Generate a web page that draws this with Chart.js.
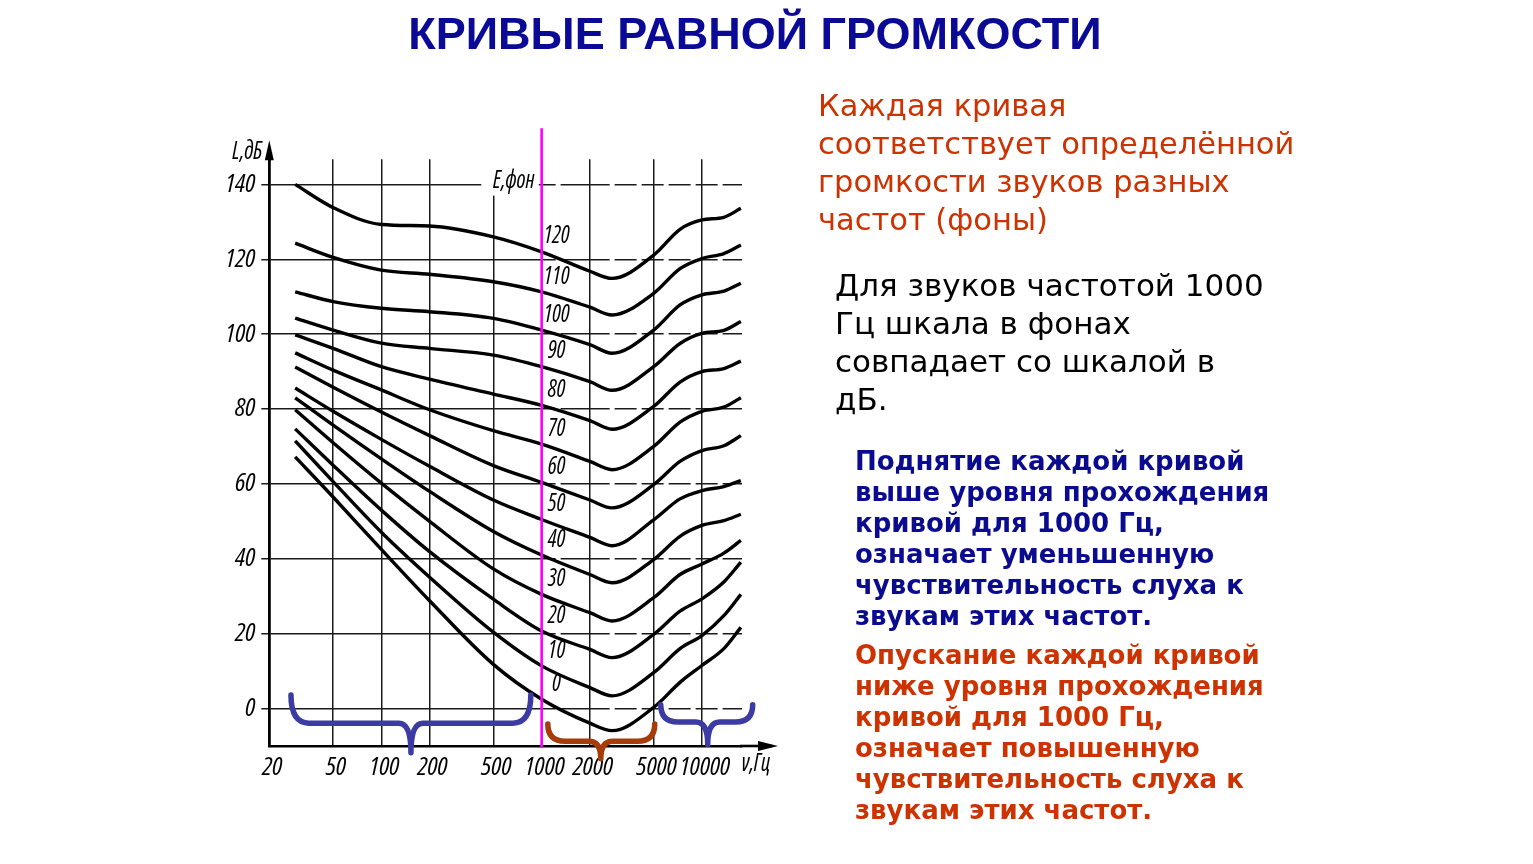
<!DOCTYPE html>
<html><head><meta charset="utf-8">
<script src="https://cdn.jsdelivr.net/npm/chart.js@4.4.1/dist/chart.umd.min.js"></script>
<style>
html,body{margin:0;padding:0;background:#fff;width:1533px;height:864px;overflow:hidden;}
#wrap{position:absolute;left:0;top:0;width:1533px;height:864px;}
.t{position:absolute;white-space:pre;margin:0;}
#title{left:0;width:1510px;text-align:center;top:9px;font:bold 45px "Liberation Sans",Arial,sans-serif;color:#0a0a96;line-height:50px;}
#t1{left:818px;top:87px;font:30.5px "DejaVu Sans",Verdana,sans-serif;line-height:38px;color:#cc3300;}
#t2{left:835px;top:266px;font:31px "DejaVu Sans",Verdana,sans-serif;line-height:38px;color:#000;}
#t3{left:855px;top:446px;font:bold 26px "DejaVu Sans",Tahoma,sans-serif;line-height:31px;color:#0b0b8f;}
#t4{left:855px;top:640px;font:bold 26px "DejaVu Sans",Tahoma,sans-serif;line-height:31px;color:#cc3300;}
</style></head>
<body>
<div id="wrap"><canvas id="c" width="1533" height="864"></canvas></div>
<div class="t" id="title">КРИВЫЕ РАВНОЙ ГРОМКОСТИ</div>
<div class="t" id="t1">Каждая кривая
соответствует определённой
громкости звуков разных
частот (фоны)</div>
<div class="t" id="t2">Для звуков частотой 1000
Гц шкала в фонах
совпадает со шкалой в
дБ.</div>
<div class="t" id="t3">Поднятие каждой кривой
выше уровня прохождения
кривой для 1000 Гц,
означает уменьшенную
чувствительность слуха к
звукам этих частот.</div>
<div class="t" id="t4">Опускание каждой кривой
ниже уровня прохождения
кривой для 1000 Гц,
означает повышенную
чувствительность слуха к
звукам этих частот.</div>
<script>
// ---- data ----
const freqHz = [29, 50, 100, 200, 500, 1000, 2000, 2750, 5000, 7300, 10000, 13700, 17500];
const phonLevels = [120, 110, 100, 90, 80, 70, 60, 50, 40, 30, 20, 10, 0];
const phon120 = [140, 133.8, 129.3, 128.9, 126, 122, 116.8, 114.9, 121.1, 128, 130.5, 131.2, 133.6];
const phon110 = [124.3, 120.5, 117.1, 116, 114, 111.3, 107.2, 105.1, 110.9, 117.5, 120.2, 121.5, 123.8];
const phon100 = [111.3, 108.7, 106.9, 106, 104.2, 101.1, 97.2, 94.9, 101.1, 107.8, 110.5, 111.5, 113.6];
const phon90  = [104.3, 101.1, 97.6, 96.2, 94.4, 91.3, 87.3, 85, 91.3, 97.5, 100.2, 101, 103.4];
const phon80  = [99.8, 96.2, 91.3, 88, 84, 81, 76.9, 74.6, 80.7, 87.2, 90, 90.8, 92.8];
const phon70  = [95, 90.4, 85.1, 79.8, 74.2, 70.6, 66, 63.8, 70, 76.5, 79.4, 80.5, 83];
const phon60  = [91.2, 85.8, 79.2, 72.9, 64.9, 60.4, 55.7, 53.6, 59.8, 66, 68.9, 70.2, 72.9];
const phon50  = [85.6, 79.4, 71.9, 64.7, 55.7, 50.5, 45.7, 43.5, 50.4, 56, 58.2, 59.3, 60.9];
const phon40  = [83, 75.7, 66.7, 58, 47.3, 41, 35.8, 33.6, 39.8, 46, 48.9, 50.2, 51.9];
const phon30  = [79.8, 71, 60.2, 50, 37.3, 30.5, 25.6, 23.4, 29.6, 35.8, 38.6, 41.5, 44.9];
const phon20  = [74.7, 65, 53, 41.9, 29.2, 20.7, 15.8, 13.6, 19.8, 26, 29.3, 33.8, 39.1];
const phon10  = [71.5, 60.6, 47.1, 35.1, 20.4, 11.4, 5.6, 3.4, 9.6, 16, 19.5, 24.8, 30.5];
const phon0   = [67.2, 56.5, 42.5, 28.8, 11.8, 2.5, -3.9, -5.9, 0.3, 7, 11.5, 16, 21.7];
const xTickValues = [20, 50, 100, 200, 500, 1000, 2000, 5000, 10000];
const xTickLabels = ['20', '50', '100', '200', '500', '1000', '2000', '5000', '10000'];
const yTickValues = [0, 20, 40, 60, 80, 100, 120, 140];
const yTickLabels = ['0', '20', '40', '60', '80', '100', '120', '140'];
const curveLabels = ['120', '110', '100', '90', '80', '70', '60', '50', '40', '30', '20', '10', '0'];

const series = [phon120, phon110, phon100, phon90, phon80, phon70, phon60, phon50, phon40, phon30, phon20, phon10, phon0];

// choose the narrowest installed sans face for the engineering-style italic labels
const narrow = (() => {
  const c = document.createElement('canvas').getContext('2d');
  const w = (f, s) => { c.font = f; return c.measureText(s || '0000').width; };
  const has = f => Math.abs(w('40px ' + f + ', monospace', 'abc 1000') - w('40px ' + f + ', serif', 'abc 1000')) < 0.01;
  let best = null;
  for (const f of ['"Noto Sans"', '"Open Sans"', 'Roboto', '"Liberation Sans"', 'Inter', 'Lato', '"DejaVu Sans"']) {
    if (!has(f)) continue;
    const base = w('italic 40px ' + f);
    for (const st of ['extra-condensed', 'condensed', 'semi-condensed']) {
      const ww = w('italic ' + st + ' 40px ' + f);
      if (ww < base * 0.95 && (!best || ww / 160 < best.em)) best = {family: f, stretch: st, em: ww / 160};
    }
  }
  for (const f of ['"Liberation Sans Narrow"', '"DejaVu Sans Condensed"']) {
    if (has(f)) { const ww = w('italic 40px ' + f); if (!best || ww / 160 < best.em) best = {family: f, stretch: '', em: ww / 160}; }
  }
  if (!best) best = {family: '"Liberation Sans"', stretch: '', em: w('italic 40px "Liberation Sans"') / 160};
  return best;
})();
const tickFontSize = Math.max(18.5, Math.min(26, 10.3 / narrow.em));
const tickFont = {family: narrow.family, size: tickFontSize, style: 'italic', weight: narrow.stretch || undefined};
const ownSize = 26;
const ownScale = Math.min(1, 8.6 / (narrow.em * ownSize));

function narrowText(ctx, txt, px, py, size) {
  ctx.save();
  ctx.font = 'italic ' + (narrow.stretch ? narrow.stretch + ' ' : '') + size + 'px ' + narrow.family;
  ctx.textAlign = 'center'; ctx.textBaseline = 'middle';
  ctx.translate(px, py); ctx.scale(ownScale, 1);
  ctx.fillText(txt, 0, 0);
  ctx.restore();
}

const datasets = series.map((vals, i) => ({
  label: phonLevels[i] + ' фон',
  data: freqHz.map((f, j) => ({x: f, y: vals[j]})),
  borderColor: '#000', borderWidth: 3.4, pointRadius: 0,
  cubicInterpolationMode: 'monotone', fill: false
}));

function brace(ctx, xs, ys, x0, x1, xc, yTop, yMid, yTip, color) {
  const a = xs.getPixelForValue(x0), b = xs.getPixelForValue(x1), c = xs.getPixelForValue(xc);
  const t = ys.getPixelForValue(yTop), m = ys.getPixelForValue(yMid), p = ys.getPixelForValue(yTip);
  const r = Math.min(18, (m - t));
  ctx.save();
  ctx.strokeStyle = color; ctx.lineWidth = 5.5; ctx.lineCap = 'round'; ctx.lineJoin = 'round';
  ctx.beginPath();
  ctx.moveTo(a, t); ctx.quadraticCurveTo(a, m, a + r, m); ctx.lineTo(c - 12, m); ctx.quadraticCurveTo(c, m, c, p);
  ctx.moveTo(b, t); ctx.quadraticCurveTo(b, m, b - r, m); ctx.lineTo(c + 12, m); ctx.quadraticCurveTo(c, m, c, p);
  ctx.stroke();
  ctx.restore();
}

const decor = {
  id: 'decor',
  beforeDatasetsDraw(chart) {
    const {ctx, chartArea: ca, scales: {x, y}} = chart;
    ctx.save();
    ctx.fillStyle = '#fff';
    // gap in the grid around the "E, фон" caption
    ctx.fillRect(x.getPixelForValue(420), ca.top - 2, x.getPixelForValue(960) - x.getPixelForValue(420), y.getPixelForValue(137) - ca.top + 2);
    // the printed horizontal grid becomes dashed right of the 1000 Hz line
    const xm = x.getPixelForValue(1000);
    const vx = xTickValues.map(v => x.getPixelForValue(v));
    yTickValues.forEach(v => {
      const py = y.getPixelForValue(v);
      for (let px = xm + 14; px < ca.right - 6; px += 27) {
        if (vx.some(g => Math.abs(g - px - 2.5) < 5)) continue;
        ctx.fillRect(px, py - 2, 5, 4);
      }
    });
    ctx.restore();
  },
  afterDatasetsDraw(chart) {
    const {ctx, chartArea: ca, scales: {x, y}} = chart;
    ctx.save();
    ctx.strokeStyle = '#000'; ctx.fillStyle = '#000'; ctx.lineWidth = 2.6;
    ctx.beginPath(); ctx.moveTo(ca.right - 2, ca.bottom); ctx.lineTo(ca.right + 30, ca.bottom); ctx.stroke();
    ctx.beginPath(); ctx.moveTo(ca.right + 36, ca.bottom); ctx.lineTo(ca.right + 16, ca.bottom - 5); ctx.lineTo(ca.right + 16, ca.bottom + 5); ctx.closePath(); ctx.fill();
    ctx.beginPath(); ctx.moveTo(ca.left, ca.top + 2); ctx.lineTo(ca.left, ca.top - 12); ctx.stroke();
    ctx.beginPath(); ctx.moveTo(ca.left, ca.top - 19); ctx.lineTo(ca.left - 4.5, ca.top + 1); ctx.lineTo(ca.left + 4.5, ca.top + 1); ctx.closePath(); ctx.fill();

    const xm = x.getPixelForValue(1000);
    ctx.strokeStyle = '#ff00ff'; ctx.lineWidth = 2.6;
    ctx.beginPath(); ctx.moveTo(xm, y.getPixelForValue(155)); ctx.lineTo(xm, y.getPixelForValue(-10.5)); ctx.stroke();

    ctx.fillStyle = '#000';
    const k = freqHz.indexOf(1000);
    series.forEach((vals, i) => {
      narrowText(ctx, curveLabels[i], xm + 15, y.getPixelForValue(vals[k] + 4.2), ownSize);
    });
    narrowText(ctx, 'E,фон', x.getPixelForValue(671), y.getPixelForValue(140.9), ownSize);
    narrowText(ctx, 'L,дБ', ca.left - 22, ca.top - 8, ownSize);
    narrowText(ctx, 'ν,Гц', ca.right + 14, ca.bottom + 18, ownSize);

    brace(ctx, x, y, 27.3, 856, 153, 3.6, -3.9, -11.8, '#3b3ba3');
    brace(ctx, x, y, 1093, 5078, 2339, -4.1, -8.7, -13.4, '#a53c0a');
    brace(ctx, x, y, 5535, 20740, 10870, 1.0, -3.6, -9.6, '#3b3ba3');
    ctx.restore();
  }
};

new Chart(document.getElementById('c'), {
  type: 'line',
  data: {datasets},
  options: {
    responsive: false, animation: false,
    layout: {padding: {left: 209.3, top: 159.3, right: 791, bottom: 78}},
    plugins: {legend: {display: false}, tooltip: {enabled: false}},
    scales: {
      x: {
        type: 'logarithmic', min: 20, max: 17785,
        afterBuildTicks: s => { s.ticks = xTickValues.map(v => ({value: v})); },
        afterFit: s => { s.height = 40; },
        ticks: {callback: (v, i) => xTickLabels[i], color: '#000', padding: 6, labelOffset: 3, maxRotation: 0, autoSkip: false, font: tickFont},
        grid: {color: '#1a1a1a', lineWidth: 1.5, drawTicks: false},
        border: {color: '#000', width: 2.6}
      },
      y: {
        type: 'linear', min: -10, max: 146.7,
        afterBuildTicks: s => { s.ticks = yTickValues.map(v => ({value: v})); },
        afterFit: s => { s.width = 60; },
        ticks: {callback: (v, i) => yTickLabels[i], color: '#000', padding: 6, font: tickFont},
        grid: {color: '#1a1a1a', lineWidth: 1.5, tickLength: 8},
        border: {color: '#000', width: 2.6}
      }
    }
  },
  plugins: [decor]
});
</script>
</body></html>
